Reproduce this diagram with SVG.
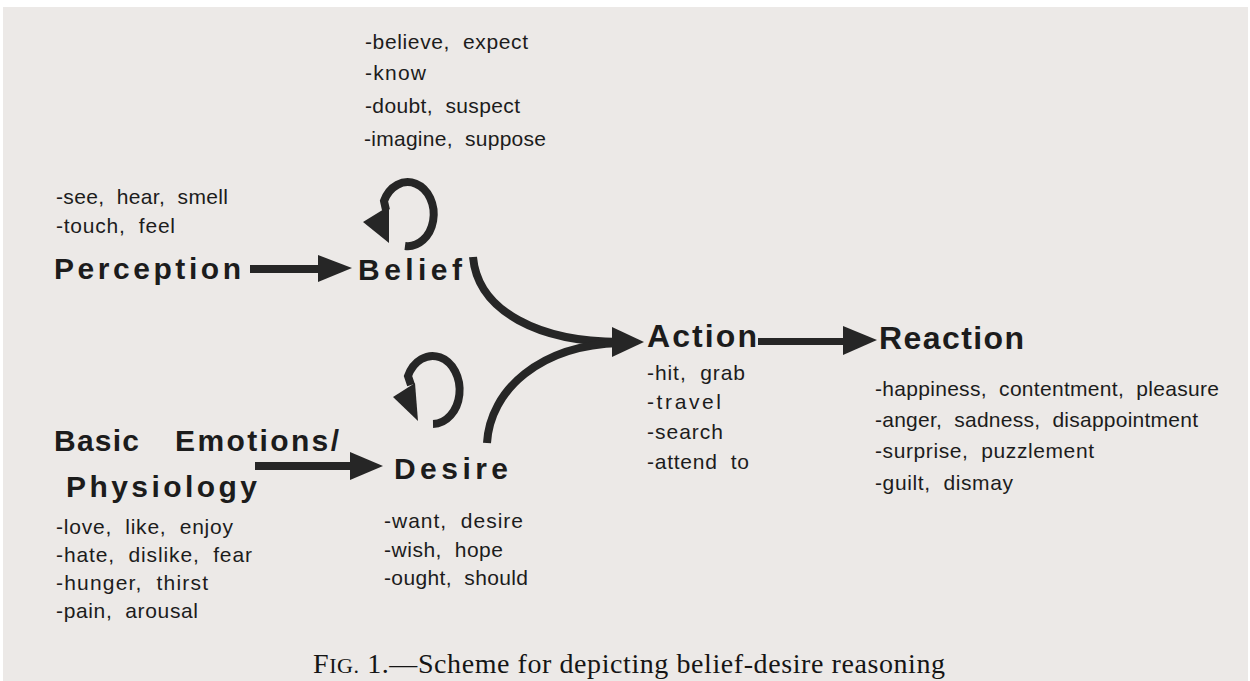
<svg xmlns="http://www.w3.org/2000/svg" width="1250" height="681" viewBox="0 0 1250 681">
  <style>
    .item { font-family: "Liberation Sans", Arial, sans-serif; font-size: 21px; fill: #1c1c1c; white-space: pre; }
    .lbl { font-family: "Liberation Sans", Arial, sans-serif; font-size: 30px; font-weight: bold; fill: #1c1c1c; }
    .lbl2 { font-family: "Liberation Sans", Arial, sans-serif; font-size: 32px; font-weight: bold; fill: #1c1c1c; }
    .cap { font-family: "Liberation Serif", "Times New Roman", serif; font-size: 28px; fill: #151515; }
    .line { fill: none; stroke: #262626; stroke-width: 8; }
    .head { fill: #262626; }
  </style>
  <rect x="0" y="0" width="1250" height="681" fill="#ffffff"/>
  <rect x="3" y="7" width="1245" height="674" fill="#ece9e7"/>

  <g id="belief">
    <text class="item" x="365" y="49" textLength="163">-believe,  expect</text>
    <text class="item" x="365" y="80" textLength="61">-know</text>
    <text class="item" x="365" y="113" textLength="155">-doubt,  suspect</text>
    <text class="item" x="364" y="146" textLength="182">-imagine,  suppose</text>
    <text class="lbl" x="358" y="280" textLength="104">Belief</text>
  </g>

  <g id="perception">
    <text class="item" x="56" y="204" textLength="172">-see,  hear,  smell</text>
    <text class="item" x="56" y="233" textLength="119">-touch,  feel</text>
    <text class="lbl" x="54" y="279" textLength="187">Perception</text>
  </g>

  <g id="emotions">
    <text class="lbl" x="54" y="451" textLength="85">Basic</text>
    <text class="lbl" x="175" y="451" textLength="164">Emotions/</text>
    <text class="lbl" x="66" y="497" textLength="191">Physiology</text>
    <text class="item" x="56" y="534" textLength="177">-love,  like,  enjoy</text>
    <text class="item" x="56" y="562" textLength="196">-hate,  dislike,  fear</text>
    <text class="item" x="56" y="590" textLength="152">-hunger,  thirst</text>
    <text class="item" x="56" y="618" textLength="142">-pain,  arousal</text>
  </g>

  <g id="desire">
    <text class="lbl" x="394" y="479" textLength="114">Desire</text>
    <text class="item" x="384" y="528" textLength="139">-want,  desire</text>
    <text class="item" x="384" y="557" textLength="119">-wish,  hope</text>
    <text class="item" x="384" y="585" textLength="144">-ought,  should</text>
  </g>

  <g id="action">
    <text class="lbl2" x="647" y="347" textLength="110">Action</text>
    <text class="item" x="647" y="380" textLength="98">-hit,  grab</text>
    <text class="item" x="647" y="409" textLength="74">-travel</text>
    <text class="item" x="647" y="439" textLength="76">-search</text>
    <text class="item" x="647" y="469" textLength="102">-attend  to</text>
  </g>

  <g id="reaction">
    <text class="lbl2" x="879" y="349" textLength="145">Reaction</text>
    <text class="item" x="875" y="396" textLength="344">-happiness,  contentment,  pleasure</text>
    <text class="item" x="875" y="427" textLength="323">-anger,  sadness,  disappointment</text>
    <text class="item" x="875" y="458" textLength="219">-surprise,  puzzlement</text>
    <text class="item" x="875" y="490" textLength="138">-guilt,  dismay</text>
  </g>

  <g id="connectors">
    <!-- Perception -> Belief -->
    <rect class="head" x="250" y="265" width="70" height="8"/>
    <polygon class="head" points="318,255 352,268 318,282"/>
    <!-- Emotions -> Desire -->
    <rect class="head" x="255" y="462" width="97" height="8"/>
    <polygon class="head" points="350,452 383,466 350,480"/>
    <!-- Action -> Reaction -->
    <rect class="head" x="758" y="338" width="88" height="7"/>
    <polygon class="head" points="843,326 877,340 843,355"/>
    <!-- Belief -> Action -->
    <path class="line" d="M 473 257 C 478 312, 540 342, 620 342"/>
    <!-- Desire -> Action -->
    <path class="line" d="M 487 443 C 490 390, 540 345, 620 343"/>
    <polygon class="head" points="612,327 644,342 612,357"/>
    <!-- Belief self-loop -->
    <path class="line" d="M 405 246 A 26 32 0 1 0 384 201 L 386 210"/>
    <polygon class="head" points="363,222 389,206 389,243"/>
    <!-- Desire self-loop -->
    <path class="line" d="M 433 424 A 27 34 0 1 0 408 376 L 411 385"/>
    <polygon class="head" points="393,397 415,383 418,421"/>
  </g>

  <g id="caption">
    <text class="cap" x="313" y="673" textLength="632">F<tspan font-size="22">IG.</tspan> 1.—Scheme for depicting belief-desire reasoning</text>
  </g>
</svg>
